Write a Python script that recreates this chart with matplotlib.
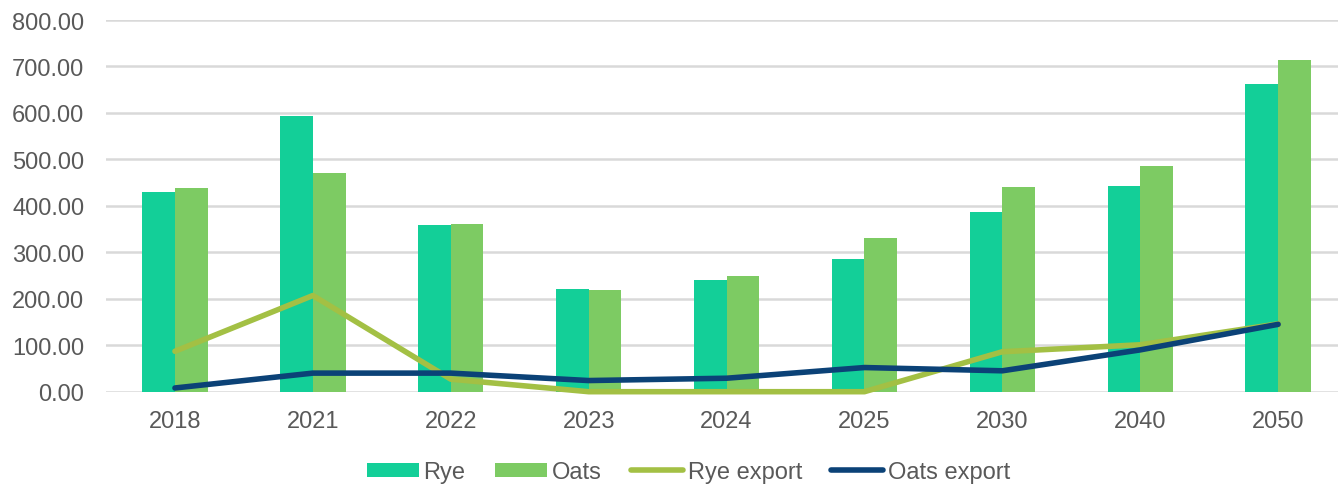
import matplotlib
matplotlib.use("Agg")
import matplotlib.pyplot as plt
import numpy as np

categories = ["2018", "2021", "2022", "2023", "2024", "2025", "2030", "2040", "2050"]
rye = [429, 594, 359, 221, 240, 285, 386, 442, 662]
oats = [438, 470, 361, 219, 249, 331, 440, 486, 714]
rye_export = [87, 207, 27, 0, 0, 0, 86, 101, 146]
oats_export = [8, 40, 40, 24, 29, 52, 45, 90, 145]
yticks = [0, 100, 200, 300, 400, 500, 600, 700, 800]

plt.rcParams['font.family'] = ['Liberation Sans', 'DejaVu Sans']

W, H = 1338, 485
fig = plt.figure(figsize=(W / 100, H / 100), dpi=100)
left, right = 106, 1338
bottom, top = 392.7, 21
ax = fig.add_axes([left / W, (H - bottom) / H, (right - left) / W, (bottom - top) / H])

x = np.arange(len(categories))
bw = 0.237
c_rye = "#13cf98"
c_oats = "#7dcb63"
c_rye_exp = "#a3c044"
c_oats_exp = "#0b4277"

h1 = ax.bar(x - bw / 2, rye, width=bw, color=c_rye, label="Rye", zorder=2)
h2 = ax.bar(x + bw / 2, oats, width=bw, color=c_oats, label="Oats", zorder=2)
h3, = ax.plot(x, rye_export, color=c_rye_exp, lw=4, label="Rye export", zorder=3,
              solid_capstyle="round", clip_on=False)
h4, = ax.plot(x, oats_export, color=c_oats_exp, lw=4, label="Oats export", zorder=4,
              solid_capstyle="round", clip_on=False)

ax.set_xlim(-0.5, -0.5 + (right - left) / 137.9)
ax.set_ylim(0, 800)
ax.set_yticks(yticks)
ax.set_yticklabels([f"{v:.2f}" for v in yticks])
ax.set_xticks(x)
ax.set_xticklabels(categories)
ax.yaxis.grid(True, color="#d9d9d9", lw=1.8, zorder=0)
ax.set_axisbelow(True)
for s in ax.spines.values():
    s.set_visible(False)
ax.tick_params(axis="both", length=0, labelsize=17, colors="#595959")
ax.tick_params(axis="y", pad=15.5)
ax.tick_params(axis="x", pad=13)

fig.legend(handles=[h1, h2, h3, h4], labels=["Rye", "Oats", "Rye export", "Oats export"],
           loc="center", bbox_to_anchor=(688.5 / W, (H - 473) / H), ncol=4, frameon=False,
           fontsize=17, handlelength=2.2, handleheight=0.54, handletextpad=0.2,
           columnspacing=1.25, labelcolor="#595959")
fig.savefig("out.png", dpi=100)
